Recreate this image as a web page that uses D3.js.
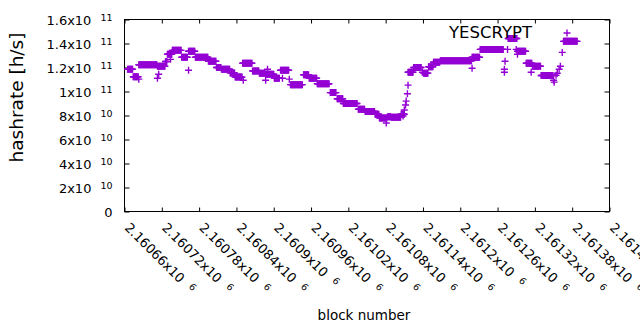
<!DOCTYPE html>
<html><head><meta charset="utf-8">
<script src="https://cdn.jsdelivr.net/npm/d3@7"></script>
<style>
body{margin:0;background:#fff}
svg text{font-family:"DejaVu Sans",sans-serif;fill:#000}
</style>
</head><body>
<svg id="chart" width="640" height="330"></svg>
<script>
// ---- data ----
const seriesName = "YESCRYPT";
// runs of consecutive blocks at (approximately) the same hashrate estimate
const runStart = [2160665,2160674,2160683,2160713,2160726,2160729,2160737,2160752,2160763,2160774,2160795,2160808,2160816,2160830,2160838,2160850,2160866,2160877,2160887,2160901,2160911,2160927,2160948,2160957,2160970,2160991,2161002,2161012,2161036,2161047,2161063,2161070,2161083,2161089,2161105,2161116,2161125,2161141,2161149,2161157,2161168,2161219,2161232,2161277,2161292,2161306,2161316,2161330,2161366];
const runEnd   = [2160673,2160682,2160712,2160725,2160728,2160736,2160751,2160761,2160773,2160794,2160807,2160815,2160829,2160837,2160849,2160865,2160876,2160886,2160900,2160909,2160924,2160946,2160956,2160969,2160989,2161000,2161011,2161034,2161046,2161062,2161069,2161082,2161088,2161104,2161110,2161124,2161137,2161148,2161156,2161167,2161218,2161231,2161269,2161291,2161305,2161315,2161329,2161349,2161388];
const runValue = [1.186e11,1.123e11,1.223e11,1.21e11,1.25e11,1.31e11,1.343e11,1.285e11,1.335e11,1.285e11,1.252e11,1.2e11,1.186e11,1.155e11,1.12e11,1.235e11,1.171e11,1.152e11,1.144e11,1.11e11,1.177e11,1.057e11,1.14e11,1.11e11,1.065e11,0.991e11,0.94e11,0.9e11,0.853e11,0.833e11,0.81e11,0.78e11,0.79e11,0.785e11,0.81e11,1.16e11,1.2e11,1.153e11,1.206e11,1.244e11,1.256e11,1.285e11,1.351e11,1.442e11,1.335e11,1.235e11,1.21e11,1.133e11,1.418e11];
// isolated points
const pointBlock = [2160683,2160713,2160715,2160734,2160763,2160851,2160887,2160890,2160914,2160925,2161081,2161108,2161110,2161112,2161113,2161115,2161116,2161139,2161219,2161271,2161271,2161272,2161276,2161290,2161292,2161314,2161350,2161351,2161354,2161356,2161359,2161361,2161364];
const pointValue = [1.103e11,1.111e11,1.144e11,1.268e11,1.177e11,1.094e11,1.094e11,1.186e11,1.111e11,1.103e11,0.738e11,0.796e11,0.846e11,0.887e11,0.92e11,0.981e11,1.053e11,1.16e11,1.194e11,1.186e11,1.16e11,1.252e11,1.351e11,1.351e11,1.31e11,1.16e11,1.094e11,1.078e11,1.136e11,1.152e11,1.186e11,1.21e11,1.326e11];
// axes
const xTickValues = [2160660,2160720,2160780,2160840,2160900,2160960,2161020,2161080,2161140,2161200,2161260,2161320,2161380,2161440];
const xTickMantissa = ["2.16066x10","2.16072x10","2.16078x10","2.16084x10","2.1609x10","2.16096x10","2.16102x10","2.16108x10","2.16114x10","2.1612x10","2.16126x10","2.16132x10","2.16138x10","2.16144x10"];
const xTickExponent = ["6","6","6","6","6","6","6","6","6","6","6","6","6","6"];
const yTickValues = [0,2e10,4e10,6e10,8e10,1e11,1.2e11,1.4e11,1.6e11];
const yTickMantissa = ["0","2x10","4x10","6x10","8x10","1x10","1.2x10","1.4x10","1.6x10"];
const yTickExponent = ["","10","10","10","10","11","11","11","11"];
const xLabel = "block number";
const yLabel = "hashrate [h/s]";

// ---- build points ----
const points = [];
runStart.forEach((s, i) => {
  for (let b = s; b <= runEnd[i]; b++) points.push({b: b, v: runValue[i]});
});
pointBlock.forEach((b, i) => points.push({b: b, v: pointValue[i]}));

// ---- layout ----
const L = 124.5, R = 609.5, T = 19.5, B = 211.5;
const color = "#9400d3";
const svg = d3.select("#chart");
const x = d3.scaleLinear().domain([2160660, 2161440]).range([L, R]);
const y = d3.scaleLinear().domain([0, 1.6e11]).range([B, T]);

function sciLabel(sel, mant, exp) {
  sel.text(null);
  sel.append("tspan").text(mant);
  if (exp) sel.append("tspan").attr("dx", 9).attr("dy", -4).style("font-size", "9.5px").text(exp);
}

// left axis
const gy = svg.append("g").attr("transform", `translate(${L},0)`)
  .call(d3.axisLeft(y).tickValues(yTickValues).tickSizeInner(-5).tickSizeOuter(0).tickPadding(12));
gy.select(".domain").remove();
gy.selectAll(".tick line").attr("stroke", "#000");
gy.selectAll(".tick text").attr("dy", 5).style("font-size", "13px")
  .each(function(d, i) { sciLabel(d3.select(this), yTickMantissa[i], yTickExponent[i]); });

// right mirrored ticks
const gr = svg.append("g").attr("transform", `translate(${R},0)`)
  .call(d3.axisRight(y).tickValues(yTickValues).tickSizeInner(-5).tickSizeOuter(0).tickFormat(""));
gr.select(".domain").remove();
gr.selectAll(".tick line").attr("stroke", "#000");

// bottom axis
const gx = svg.append("g").attr("transform", `translate(0,${B})`)
  .call(d3.axisBottom(x).tickValues(xTickValues).tickSizeInner(-4).tickSizeOuter(0));
gx.select(".domain").remove();
gx.selectAll(".tick line").attr("stroke", "#000");
gx.selectAll(".tick text")
  .attr("x", 0).attr("y", 0).attr("dy", 0)
  .attr("text-anchor", "start")
  .attr("transform", "translate(-1,17) rotate(45)")
  .style("font-size", "13px")
  .each(function(d, i) { sciLabel(d3.select(this), xTickMantissa[i], xTickExponent[i]); });

// top mirrored ticks
const gt = svg.append("g").attr("transform", `translate(0,${T})`)
  .call(d3.axisTop(x).tickValues(xTickValues).tickSizeInner(-4).tickSizeOuter(0).tickFormat(""));
gt.select(".domain").remove();
gt.selectAll(".tick line").attr("stroke", "#000");

// border
svg.append("rect").attr("x", L).attr("y", T).attr("width", R - L).attr("height", B - T)
  .attr("fill", "none").attr("stroke", "#000").attr("stroke-width", 1);

// axis titles
svg.append("text").attr("x", 364).attr("y", 320).attr("text-anchor", "middle")
  .style("font-size", "13.5px").text(xLabel);
svg.append("text").attr("transform", "translate(23,97.5) rotate(-90)").attr("text-anchor", "middle")
  .style("font-size", "18.5px").text(yLabel);

// points
const cross = "M-3.5,0H3.5M0,-3.5V3.5";
svg.append("g").selectAll("path").data(points).join("path")
  .attr("d", cross)
  .attr("transform", d => `translate(${x(d.b)},${y(d.v)})`)
  .attr("fill", "none").attr("stroke", color).attr("stroke-width", 1.4);

// key
svg.append("text").attr("x", 532).attr("y", 37.5).attr("text-anchor", "end")
  .style("font-size", "16.5px").text(seriesName);
svg.append("path").attr("d", cross).attr("transform", "translate(567,33)")
  .attr("fill", "none").attr("stroke", color).attr("stroke-width", 1.4);
</script>
</body></html>
